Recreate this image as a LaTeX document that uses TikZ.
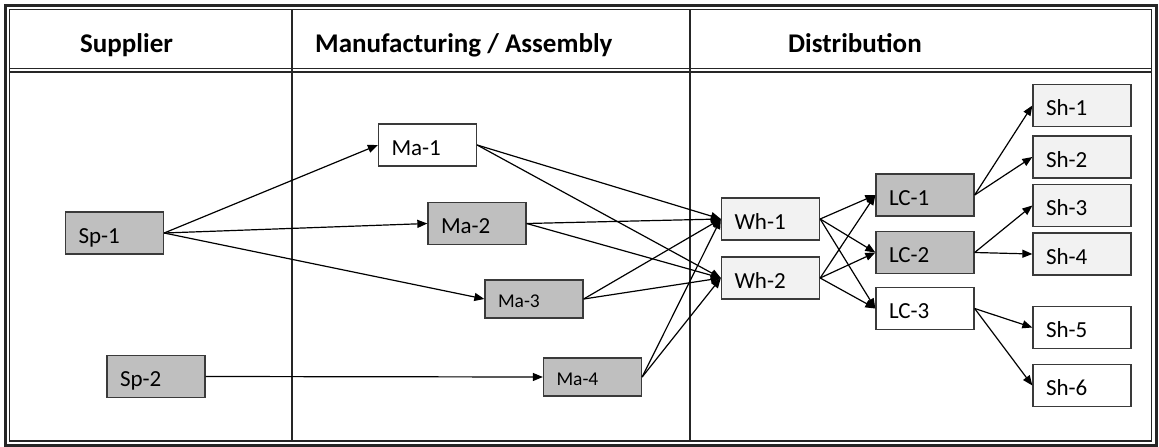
\documentclass[tikz,border=0pt]{standalone}
\usepackage{fontspec}
\setmainfont{Carlito}
\usetikzlibrary{arrows.meta}
\definecolor{boxdark}{HTML}{BFBFBF}
\definecolor{boxlight}{HTML}{F2F2F2}
\definecolor{boxline}{HTML}{3A3A3A}
\tikzset{
  stage/.style={draw=boxline, line width=1.3pt, inner xsep=13pt, inner ysep=0pt,
    text width=72pt, align=left, minimum height=42pt, anchor=center,
    text height=20pt, text depth=0pt,
    font=\fontsize{23}{26}\selectfont},
  small/.style={minimum height=38pt, text height=16.6pt, text depth=0pt,
    font=\fontsize{19.5}{22}\selectfont},
  dark/.style={stage, fill=boxdark},
  light/.style={stage, fill=boxlight},
  plain/.style={stage, fill=white},
  flow/.style={draw=black, line width=1.2pt, -{Triangle[length=10pt,width=8pt]}},
  heading/.style={anchor=base west, inner sep=0pt, font=\fontsize{27}{30}\bfseries\selectfont},
  frameline/.style={draw=black!85}
}
\begin{document}
\begin{tikzpicture}[x=1pt, y=-1pt]
\useasboundingbox (0,0) rectangle (1159,447);
\fill[white] (0,0) rectangle (1159,447);

% outer double frame
\draw[frameline, line width=3pt] (5.5,5.5) rectangle (1156,445);
\draw[frameline, line width=1.2pt] (9.5,9.5) rectangle (1151.5,441);

% header rule (double)
\draw[frameline, line width=1.8pt] (9.5,68.5) -- (1151.5,68.5);
\draw[frameline, line width=1.2pt] (9.5,72) -- (1151.5,72);

% column dividers
\draw[frameline, line width=1.2pt] (292,9.5) -- (292,441);
\draw[frameline, line width=1.2pt] (690,9.5) -- (690,441);

% column headings
\node[heading] (hsup) at (80,52) {Supplier};
\node[heading] (hman) at (315,52) {Manufacturing / Assembly};
\node[heading] (hdis) at (788,52) {Distribution};

% suppliers
\node[dark] (sp1) at (114.5,233) {Sp-1};
\node[dark] (sp2) at (156,376.5) {Sp-2};

% manufacturing / assembly
\node[plain] (ma1) at (427.5,145) {Ma-1};
\node[dark]  (ma2) at (477,223.5) {Ma-2};
\node[dark, small] (ma3) at (534,299) {Ma-3};
\node[dark, small] (ma4) at (592.5,377) {Ma-4};

% warehouses
\node[light] (wh1) at (770.5,219) {Wh-1};
\node[light] (wh2) at (770.5,278) {Wh-2};

% logistics centres
\node[dark]  (lc1) at (925,195) {LC-1};
\node[dark]  (lc2) at (925,252.5) {LC-2};
\node[plain] (lc3) at (925,308.5) {LC-3};

% shops
\node[light] (sh1) at (1082,105.5) {Sh-1};
\node[light] (sh2) at (1082,157) {Sh-2};
\node[light] (sh3) at (1082,205.5) {Sh-3};
\node[light] (sh4) at (1082,254) {Sh-4};
\node[plain] (sh5) at (1082,327.5) {Sh-5};
\node[plain] (sh6) at (1082,385.5) {Sh-6};

% supplier -> manufacturing
\draw[flow] (sp1.east) -- (ma1.west);
\draw[flow] (sp1.east) -- (ma2.west);
\draw[flow] (sp1.east) -- (ma3.west);
\draw[flow] (sp2.east) -- (ma4.west);

% manufacturing -> warehouses
\foreach \m in {ma1,ma2,ma3,ma4}{
  \draw[flow] (\m.east) -- (wh1.west);
  \draw[flow] (\m.east) -- (wh2.west);
}

% warehouses -> logistics centres
\foreach \w in {wh1,wh2}{
  \foreach \l in {lc1,lc2,lc3}{
    \draw[flow] (\w.east) -- (\l.west);
  }
}

% logistics centres -> shops
\draw[flow] (lc1.east) -- (sh1.west);
\draw[flow] (lc1.east) -- (sh2.west);
\draw[flow] (lc2.east) -- (sh3.west);
\draw[flow] (lc2.east) -- (sh4.west);
\draw[flow] (lc3.east) -- (sh5.west);
\draw[flow] (lc3.east) -- (sh6.west);
\end{tikzpicture}
\end{document}
